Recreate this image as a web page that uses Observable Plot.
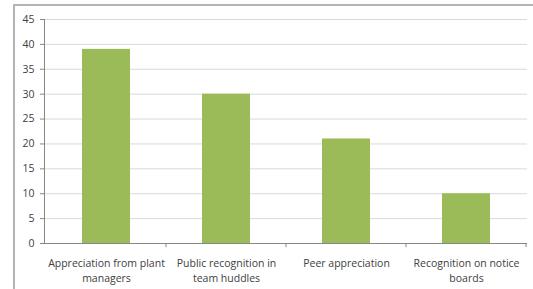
<!DOCTYPE html>
<html><head><meta charset="utf-8">
<script src="https://cdn.jsdelivr.net/npm/d3@7"></script>
<script src="https://cdn.jsdelivr.net/npm/@observablehq/plot@0.6"></script>
<style>
body{margin:0;background:#fff}
#wrap{position:relative;width:533px;height:289px;overflow:hidden}
#border{position:absolute;left:13px;top:4px;width:600px;height:400px;border-left:2px solid #b4b4b4;border-top:2px solid #b4b4b4;pointer-events:none}
svg{position:absolute;left:0;top:0}
</style>
</head><body>
<div id="wrap"><div id="border"></div></div>
<script>
const categories = ["Appreciation from plant managers", "Public recognition in team huddles", "Peer appreciation", "Recognition on notice boards"];
const values = [39, 30, 21, 10];
const tickLabels = ["Appreciation from plant\nmanagers", "Public recognition in\nteam huddles", "Peer appreciation", "Recognition on notice\nboards"];
const yTicks = [0, 5, 10, 15, 20, 25, 30, 35, 40, 45];

const data = categories.map((c, i) => ({category: c, value: values[i]}));
const labelOf = new Map(categories.map((c, i) => [c, tickLabels[i]]));

const plot = Plot.plot({
  width: 533,
  height: 289,
  marginLeft: 44,
  marginRight: 6,
  marginTop: 19,
  marginBottom: 46,
  style: {fontFamily: "'Open Sans', sans-serif", background: "transparent"},
  x: {domain: categories, paddingInner: 0.6, paddingOuter: 0.3},
  y: {domain: [0, 45]},
  marks: [
    Plot.gridY(yTicks, {stroke: "#d9d9d9", strokeOpacity: 1}),
    Plot.axisY(yTicks, {tickSize: 4, tickPadding: 6, stroke: "#868686", fill: "#404040", fontSize: 10.5, label: null}),
    Plot.barY(data, {x: "category", y: "value", fill: "#9bbb59"}),
    Plot.frame({anchor: "left", stroke: "#868686"}),
    Plot.ruleY([0], {stroke: "#868686"}),
    Plot.axisX({tickSize: 0, tickPadding: 13, fill: "#404040", fontSize: 10.5, lineHeight: 1.4, tickFormat: d => labelOf.get(d), label: null})
  ]
});

const x = plot.scale("x");
const y = plot.scale("y");
const y0 = y.apply(0);
const g = d3.select(plot).append("g").attr("stroke", "#868686");
categories.forEach(c => {
  const bx = x.apply(c) + x.bandwidth + (x.step - x.bandwidth) / 2;
  g.append("line").attr("x1", bx).attr("x2", bx).attr("y1", y0).attr("y2", y0 + 4);
});
document.getElementById("wrap").appendChild(plot);
</script>
</body></html>
